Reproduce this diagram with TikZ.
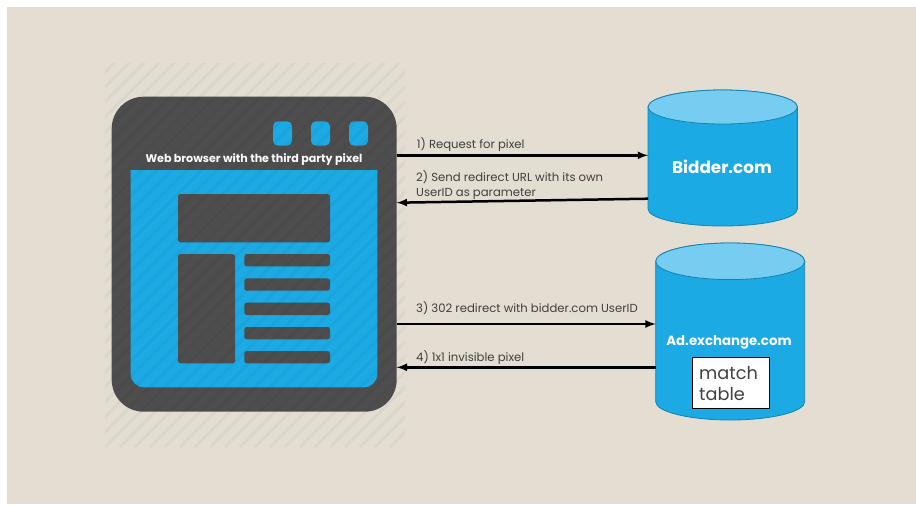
\documentclass[tikz,border=0pt]{standalone}
\usepackage{fontspec}
\setmainfont{Poppins}
\usetikzlibrary{arrows,shapes,positioning}
\definecolor{pagecolor}{RGB}{227, 221, 210}
\definecolor{framecolor}{RGB}{77, 77, 77}
\definecolor{screencolor}{RGB}{27, 170, 227}
\definecolor{lidcolor}{RGB}{119, 205, 241}
\definecolor{rimcolor}{RGB}{22, 130, 175}
\definecolor{labelcolor}{RGB}{64, 64, 64}
\tikzset{
  block/.style={fill=framecolor, rounded corners=2.5pt},
  button/.style={fill=screencolor, rounded corners=5pt},
  flow/.style={->, >=latex, line width=2.5pt, black},
  steplabel/.style={anchor=base west, text=labelcolor, font=\fontsize{11.65}{14.3}\selectfont, align=left, inner sep=0pt},
  store/.style={inner sep=0pt, outer sep=0pt},
  storebody/.style={draw=rimcolor, line width=0.8pt, fill=screencolor},
  storelid/.style={draw=rimcolor, line width=0.8pt, fill=lidcolor}
}
\begin{document}
\begin{tikzpicture}[x=1pt,y=-1pt]
    \useasboundingbox (0,0) rectangle (916,504);
    % Page
    \fill[white] (0,0) rectangle (916,504);
    \fill[pagecolor] (7,7) rectangle (916,504);

    % Browser
    \node[minimum width=285pt, minimum height=315pt, inner sep=0pt, outer sep=0pt] (browser) at (254.2,254.2) {};
    \fill[framecolor, rounded corners=32pt] (browser.south west) rectangle (browser.north east);
    \fill[screencolor] (130.7,170) -- (377.3,170) -- (377.3,374) arc (0:90:13.3) -- (144,387.3) arc (90:180:13.3) -- cycle;
    \foreach \x in {273,311,349}
      \fill[button] (\x,121.3) rectangle (\x+19,145.7);
    \node[text=white, font=\fontsize{11.1}{13}\selectfont\bfseries, inner sep=0pt] (title) at (254,159.5) {Web browser with the third party pixel};

    % Page layout
    \fill[block] (178,194) rectangle (330,242.3);
    \fill[block] (178,254) rectangle (235,363.3);
    \foreach \y in {254,278.4,302.7,327,351}
      \fill[block] (244.3,\y) rectangle (330,\y+12.3);

    % Stripes
    \begin{scope}
      \clip (105,63) rectangle (405,447);
      \foreach \s in {-300,-285,...,420}
        \draw[black, opacity=0.03, line width=3pt] (\s,447) -- (\s+400,47);
    \end{scope}

    % Stores
    \node[store, minimum width=149.3pt, minimum height=136pt] (bidder) at (722.7,158) {};
    \node[store, minimum width=149pt, minimum height=177pt] (adex) at (730.2,331.5) {};
    \foreach \name/\rx/\ry in {bidder/74.65/17, adex/74.5/18.3} {
      \draw[storebody] ([yshift=-\ry pt]\name.north west) -- ([yshift=\ry pt]\name.south west) arc [start angle=180, end angle=0, x radius=\rx, y radius=\ry] -- ([yshift=-\ry pt]\name.north east) arc [start angle=0, end angle=-180, x radius=\rx, y radius=\ry] -- cycle;
      \draw[storelid] ([yshift=-\ry pt]\name.north) ellipse [x radius=\rx, y radius=\ry];
    }
    \node[text=white, font=\fontsize{16.8}{20}\selectfont\bfseries, inner sep=0pt] (biddername) at (722,167) {Bidder.com};
    \node[text=white, font=\fontsize{13.3}{16}\selectfont\bfseries, inner sep=0pt] (adexname) at (729,342) {Ad.exchange.com};
    \node[draw=black, fill=white, line width=0.8pt, minimum width=77pt, minimum height=51pt, inner sep=0pt] (matchbox) at (730.8,382.8) {};
    \node[anchor=base west, text=labelcolor, font=\fontsize{17.7}{21}\selectfont, align=left, inner sep=0pt] (matchtext) at (699,400) {match\\table};

    % Arrows
    \coordinate (requesty) at (0,155.3);
    \coordinate (redirectout) at (0,198.7);
    \coordinate (redirectin) at (0,202.7);
    \coordinate (useridy) at (0,324);
    \coordinate (pixely) at (0,367.3);
    \draw[flow] (browser.east |- requesty) -- (bidder.west |- requesty);
    \draw[flow] (bidder.west |- redirectout) -- (browser.east |- redirectin);
    \draw[flow] (browser.east |- useridy) -- (adex.west |- useridy);
    \draw[flow] (adex.west |- pixely) -- (browser.east |- pixely);

    % Labels
    \node[steplabel] (stepa) at (416.7,148) {1) Request for pixel};
    \node[steplabel] (stepb) at (416,196) {2) Send redirect URL with its own\\UserID as parameter};
    \node[steplabel] (stepc) at (416,312) {3) 302 redirect with bidder.com UserID};
    \node[steplabel] (stepd) at (416,361.7) {4) 1x1 invisible pixel};
\end{tikzpicture}
\end{document}
